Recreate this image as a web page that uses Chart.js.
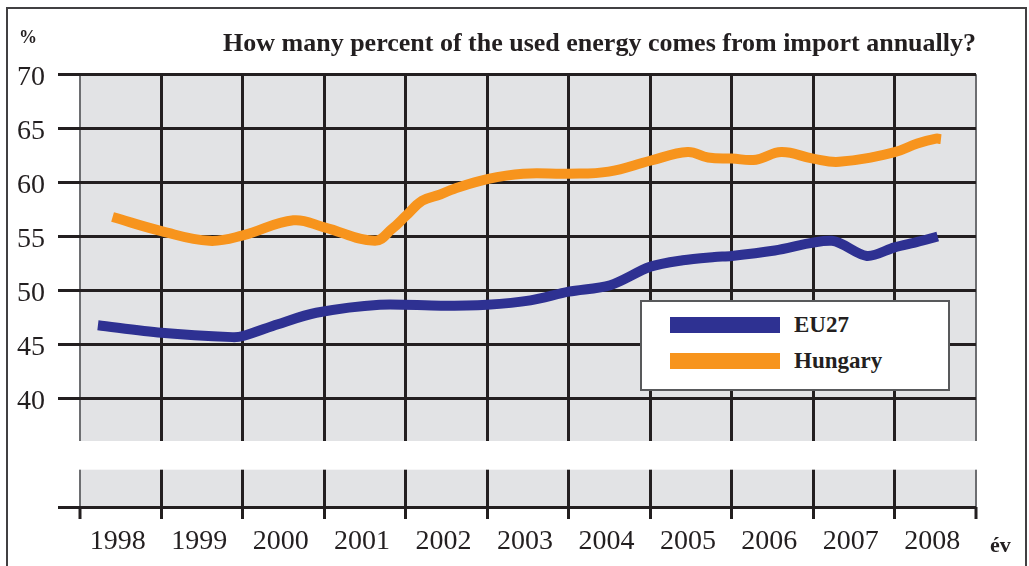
<!DOCTYPE html>
<html>
<head>
<meta charset="utf-8">
<title>Energy import dependency</title>
<script src="https://cdn.jsdelivr.net/npm/chart.js@4.4.1/dist/chart.umd.min.js"></script>
<style>
    html, body { margin: 0; padding: 0; background: #fff; overflow: hidden; }
    body { width: 1029px; height: 566px; position: relative; font-family: 'Liberation Serif', serif; color: #231f20; }
    #frame { position: absolute; left: 6px; top: 7px; width: 1021px; height: 620px; border: 2px solid #414042; box-sizing: border-box; }
    #wrap { position: absolute; left: 0; top: 0; width: 1029px; height: 566px; }
    .unit { position: absolute; font-weight: bold; line-height: 1; }
    #pct { left: 19px; top: 28px; font-size: 18px; }
    #ev { left: 990px; top: 534px; font-size: 22px; }
    #legend { position: absolute; left: 640px; top: 300px; width: 310px; height: 91px; box-sizing: border-box;
              background: #fff; border: 2px solid #58595b; padding-top: 5px; }
    .item { display: flex; align-items: center; height: 36px; }
    .swatch { width: 110px; height: 16px; margin-left: 28px; margin-right: 14px; }
    .item span { font-weight: bold; font-size: 23px; }
</style>
</head>
<body>
<div id="frame"></div>
<div id="wrap"><canvas id="importChart"></canvas></div>
<div class="unit" id="pct">%</div>
<div class="unit" id="ev">év</div>
<div id="legend"></div>

<script>
// Year labels on the x axis and labelled y ticks
const years = [1998, 1999, 2000, 2001, 2002, 2003, 2004, 2005, 2006, 2007, 2008];
const yTickLabels = [40, 45, 50, 55, 60, 65, 70];

// EU27 curve
const eu27Years  = [1997.72, 1998.5, 1999.37, 1999.5, 1999.93, 2000.4, 2001.18, 2001.93, 2002.5, 2003.03, 2003.5,
                    2004.01, 2004.5, 2004.9, 2005.29, 2005.5, 2006.03, 2006.73, 2007.16, 2007.5, 2007.78, 2008.03];
const eu27Values = [46.8, 46.1, 45.7, 45.8, 46.9, 47.95, 48.7, 48.6, 48.7, 49.1, 49.9,
                    50.5, 52.2, 52.8, 53.1, 53.2, 53.7, 54.6, 53.2, 54.0, 54.5, 55.0];

// Hungary curve
const hungaryYears  = [1997.9, 1998.5, 1999.09, 1999.5, 2000.12, 2000.5, 2001.12, 2001.33, 2001.5, 2001.7, 2001.93,
                       2002.09, 2002.5, 2002.94, 2003.5, 2003.99, 2004.5, 2004.96, 2005.21, 2005.5, 2005.8, 2006.11,
                       2006.5, 2006.82, 2007.5, 2007.78, 2008.01, 2008.07];
const hungaryValues = [56.8, 55.5, 54.6, 55.1, 56.5, 55.85, 54.6, 55.7, 56.9, 58.3, 58.9,
                       59.4, 60.3, 60.8, 60.8, 61.0, 62.0, 62.8, 62.3, 62.2, 62.1, 62.8,
                       62.2, 61.9, 62.8, 63.6, 64.05, 64.0];

const ink = '#231f20';
Chart.defaults.font.family = "'Liberation Serif', serif";
Chart.defaults.color = ink;

// grid lines sit between the year labels
const gridTicks = [years[0] - 0.5].concat(years.map(y => y + 0.5));
const xTicks = gridTicks.concat(years).sort((a, b) => a - b);
const isEdge = v => v === gridTicks[0] || v === gridTicks[gridTicks.length - 1];

function toPoints(xs, ys) {
    return xs.map((x, i) => ({ x: x, y: ys[i] }));
}

// grey plot background and the white break of the y axis
const plotDecor = {
    id: 'plotDecor',
    beforeDraw(chart) {
        const { ctx, chartArea: a } = chart;
        ctx.save();
        ctx.fillStyle = '#e2e3e5';
        ctx.fillRect(a.left, a.top, a.right - a.left, a.bottom - a.top);
        ctx.restore();
    },
    afterDatasetsDraw(chart) {
        const { ctx, chartArea: a, scales: { y } } = chart;
        const top = y.getPixelForValue(36.1);
        const bottom = y.getPixelForValue(33.45);
        ctx.save();
        ctx.fillStyle = '#fff';
        ctx.fillRect(a.left - 30, top, a.right - a.left + 32, bottom - top);
        ctx.restore();
    }
};

const chart = new Chart(document.getElementById('importChart'), {
    type: 'line',
    data: {
        datasets: [
            {
                label: 'EU27',
                data: toPoints(eu27Years, eu27Values),
                borderColor: '#2e3192',
                backgroundColor: '#2e3192',
                borderWidth: 10,
                tension: 0.3,
                pointRadius: 0,
                borderCapStyle: 'butt',
                borderJoinStyle: 'round'
            },
            {
                label: 'Hungary',
                data: toPoints(hungaryYears, hungaryValues),
                borderColor: '#f7941d',
                backgroundColor: '#f7941d',
                borderWidth: 10,
                tension: 0.4,
                pointRadius: 0,
                borderCapStyle: 'butt',
                borderJoinStyle: 'round'
            }
        ]
    },
    options: {
        responsive: true,
        maintainAspectRatio: false,
        animation: false,
        layout: { padding: { left: 0, right: 53, top: 0, bottom: 0 } },
        plugins: {
            legend: { display: false },
            tooltip: { enabled: false },
            title: {
                display: true,
                text: 'How many percent of the used energy comes from import annually?',
                align: 'end',
                color: ink,
                font: { size: 26, weight: 'bold' },
                padding: { top: 29, bottom: 14 }
            }
        },
        scales: {
            x: {
                type: 'linear',
                min: gridTicks[0],
                max: gridTicks[gridTicks.length - 1],
                afterBuildTicks: s => { s.ticks = xTicks.map(v => ({ value: v })); },
                afterFit: s => { s.height = 59; },
                border: { display: false },
                ticks: {
                    autoSkip: false,
                    maxRotation: 0,
                    padding: 6,
                    labelOffset: -3,
                    color: ink,
                    font: { size: 28 },
                    callback: v => years.includes(v) ? String(v) : ''
                },
                grid: {
                    color: c => !c.tick ? ink : years.includes(c.tick.value) ? 'rgba(0,0,0,0)' : (isEdge(c.tick.value) ? '#6d6e71' : ink),
                    lineWidth: c => c.tick && isEdge(c.tick.value) ? 2 : 3,
                    tickColor: c => c.tick && years.includes(c.tick.value) ? 'rgba(0,0,0,0)' : ink,
                    tickWidth: 3,
                    tickLength: 12
                }
            },
            y: {
                min: 30,
                max: 70,
                afterFit: s => { s.width = 80; },
                border: { display: false },
                ticks: {
                    stepSize: 5,
                    padding: 13,
                    labelOffset: 3,
                    color: ink,
                    font: { size: 28 },
                    callback: v => yTickLabels.includes(v) ? String(v) : ''
                },
                grid: {
                    color: ink,
                    lineWidth: 3,
                    tickColor: ink,
                    tickWidth: 3,
                    tickLength: 22
                }
            }
        }
    },
    plugins: [plotDecor]
});

// legend box built from the datasets
const legendBox = document.getElementById('legend');
chart.data.datasets.forEach(ds => {
    const row = document.createElement('div');
    row.className = 'item';
    const sw = document.createElement('div');
    sw.className = 'swatch';
    sw.style.background = ds.borderColor;
    const txt = document.createElement('span');
    txt.textContent = ds.label;
    row.appendChild(sw);
    row.appendChild(txt);
    legendBox.appendChild(row);
});
</script>
</body>
</html>
